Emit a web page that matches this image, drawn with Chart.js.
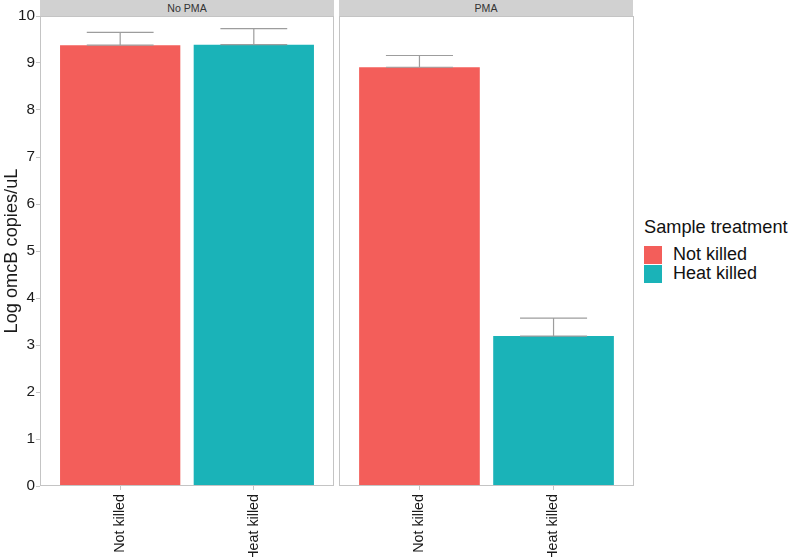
<!DOCTYPE html>
<html>
<head>
<meta charset="utf-8">
<script src="https://cdn.jsdelivr.net/npm/chart.js@4/dist/chart.umd.min.js"></script>
<style>
  body { margin: 0; background: #fff; font-family: "Liberation Sans", Arial, sans-serif; }
  #wrap { position: relative; width: 789px; height: 557px; }
  .panel { position: absolute; top: 0; height: 557px; }
  .strip { position: absolute; top: 0; height: 16px; background: #d1d1d1; color: #333;
           font-size: 10.6px; line-height: 16px; text-align: center; }
  #legend { position: absolute; left: 644px; top: 217px; color: #111; white-space: nowrap; }
  #legend .title { font-size: 18.2px; line-height: 21px; margin-bottom: 7px; }
  #legend .item { display: flex; align-items: center; height: 19px; font-size: 18px; }
  #legend .key { width: 18px; height: 18px; margin-right: 11px; }
</style>
</head>
<body>
<div id="wrap">
  <div class="panel" style="left:0;width:336px"><canvas id="panel1"></canvas></div>
  <div class="panel" style="left:336px;width:300px"><canvas id="panel2"></canvas></div>
  <div class="strip" id="strip1" style="left:40px;width:294px"></div>
  <div class="strip" id="strip2" style="left:339px;width:294px"></div>
  <div id="legend"></div>
</div>
<script>
// ===================================
// Data
// ===================================
const facets = ["No PMA", "PMA"];
const treatments = ["Not killed", "Heat killed"];
const yTicks = [0, 1, 2, 3, 4, 5, 6, 7, 8, 9, 10];

const noPmaMeans = [9.38, 9.39];
const noPmaUpper = [9.65, 9.73];
const pmaMeans = [8.91, 3.19];
const pmaUpper = [9.16, 3.57];

const legendTitle = "Sample treatment";
const yTitle = "Log omcB copies/uL";

// ===================================
// Styles
// ===================================
const fillColors = ["#f35e5a", "#1ab3b8"];
const frameColor = "#c4c4c4";
const errColor = "#9d9d9d";
const textColor = "#1a1a1a";
const fontFamily = "'Liberation Sans', Arial, sans-serif";

// panel frame + error bars
const panelDecor = {
  id: "panelDecor",
  afterDatasetsDraw(chart) {
    const ctx = chart.ctx;
    const xs = chart.scales.x;
    const ys = chart.scales.y;
    const means = chart.data.datasets[0].data.map((p) => p.y);
    const upper = chart.options.plugins.panelDecor.upper;

    ctx.save();
    ctx.strokeStyle = errColor;
    ctx.lineWidth = 1.2;
    means.forEach((m, i) => {
      const xv = i + 1;
      const cx = xs.getPixelForValue(xv);
      const half = xs.getPixelForValue(xv + 0.25) - cx;
      const yTop = ys.getPixelForValue(upper[i]);
      const yMid = ys.getPixelForValue(m);
      ctx.beginPath();
      ctx.moveTo(cx - half, yTop); ctx.lineTo(cx + half, yTop);
      ctx.moveTo(cx - half, yMid); ctx.lineTo(cx + half, yMid);
      ctx.moveTo(cx, yTop); ctx.lineTo(cx, yMid);
      ctx.stroke();
    });

    const a = chart.chartArea;
    ctx.strokeStyle = frameColor;
    ctx.lineWidth = 1;
    ctx.strokeRect(a.left + 0.5, a.top + 0.5, a.right - a.left - 1, a.bottom - a.top - 1);
    ctx.restore();
  },
};

function buildPanel(canvasId, means, upper, showY, padLeft) {
  const ctx = document.getElementById(canvasId).getContext("2d");
  return new Chart(ctx, {
    type: "bar",
    data: {
      datasets: [
        {
          data: means.map((v, i) => ({ x: i + 1, y: v })),
          backgroundColor: fillColors,
          borderWidth: 0,
          barPercentage: 0.9,
          categoryPercentage: 1,
        },
      ],
    },
    options: {
      animation: false,
      responsive: true,
      maintainAspectRatio: false,
      layout: { padding: { top: 16, right: 2, left: padLeft, bottom: 0 } },
      plugins: {
        legend: { display: false },
        tooltip: { enabled: false },
        panelDecor: { upper: upper },
      },
      scales: {
        x: {
          type: "linear",
          offset: false,
          min: 0.4,
          max: 2.6,
          afterBuildTicks: (s) => { s.ticks = treatments.map((t, i) => ({ value: i + 1 })); },
          afterFit: (s) => { s.height = 71; },
          grid: { drawOnChartArea: false, offset: false, color: frameColor, tickLength: 4 },
          border: { display: false },
          ticks: {
            callback: (v) => treatments[v - 1],
            minRotation: 90,
            maxRotation: 90,
            autoSkip: false,
            padding: 4,
            color: textColor,
            font: { family: fontFamily, size: 14.3 },
          },
        },
        y: {
          display: showY,
          min: yTicks[0],
          max: yTicks[yTicks.length - 1],
          afterBuildTicks: (s) => { s.ticks = yTicks.map((v) => ({ value: v })); },
          afterFit: (s) => { s.width = showY ? 40 : 0; },
          grid: { drawOnChartArea: false, color: frameColor, tickLength: 4 },
          border: { display: false },
          ticks: {
            padding: 1,
            color: textColor,
            font: { family: fontFamily, size: 15.3 },
          },
          title: {
            display: true,
            text: yTitle,
            color: textColor,
            padding: { top: 1, bottom: 0 },
            font: { family: fontFamily, size: 18.2 },
          },
        },
      },
    },
    plugins: [panelDecor],
  });
}

buildPanel("panel1", noPmaMeans, noPmaUpper, true, 0);
buildPanel("panel2", pmaMeans, pmaUpper, false, 3);

// strips
document.getElementById("strip1").textContent = facets[0];
document.getElementById("strip2").textContent = facets[1];

// legend
const legend = document.getElementById("legend");
legend.innerHTML =
  `<div class="title">${legendTitle}</div>` +
  treatments
    .map(
      (t, i) => `
        <div class="item"><span class="key" style="background:${fillColors[i]}"></span>${t}</div>`
    )
    .join("");
</script>
</body>
</html>
